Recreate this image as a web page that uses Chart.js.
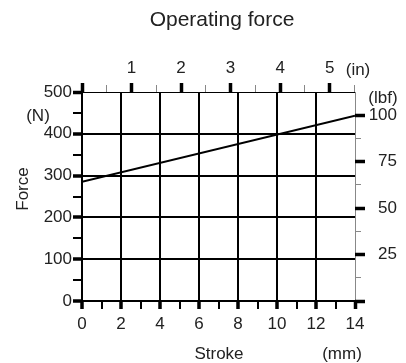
<!DOCTYPE html>
<html>
<head>
<meta charset="utf-8">
<title>Operating force</title>
<script src="https://cdn.jsdelivr.net/npm/chart.js@4/dist/chart.umd.min.js"></script>
<style>
  html, body { margin: 0; padding: 0; background: #fff; }
  #forceChart { display: block; }
</style>
</head>
<body>
<canvas id="forceChart" width="406" height="363"></canvas>
<script>
// Stroke (mm) vs operating force (N)
const strokeMm = [0, 14];
const forceN = [285, 443];

// labelled ticks on each axis
const mmLabels = [0, 2, 4, 6, 8, 10, 12, 14];
const inLabels = [1, 2, 3, 4, 5];
const newtonLabels = [0, 100, 200, 300, 400, 500];
const lbfLabels = [25, 50, 75, 100];

// tick marks on the secondary (inch / lbf) axes, labelled and unlabelled
const inTicks = [0, 0.5, 1, 1.5, 2, 2.5, 3, 3.5, 4, 4.5, 5, 5.5];
const lbfTicks = [0, 12.5, 25, 37.5, 50, 62.5, 75, 87.5, 100];

// top scale is marked in tenths of an inch
const MM_PER_IN_MARK = 2.54;
const N_PER_LBF = 4.448;
const X_MAX = 14;
const Y_MAX = 500;

const FONT = 'Liberation Sans';
const TEXT = '#222';

const tickFont = { family: FONT, size: 17 };

// extra captions around the frame
const axisNotes = {
    id: 'axisNotes',
    afterDraw(chart) {
        const c = chart.ctx;
        c.save();
        c.fillStyle = TEXT;
        c.textBaseline = 'alphabetic';
        c.textAlign = 'center';

        c.font = '21px "' + FONT + '"';
        c.fillText('Operating force', 222, 26);

        c.font = '17px "' + FONT + '"';
        c.fillText('(N)', 38, 121);
        c.fillText('(lbf)', 383, 103);
        c.fillText('(in)', 358, 75);
        c.fillText('Stroke', 219, 359);
        c.fillText('(mm)', 342, 359);

        c.translate(28, 189);
        c.rotate(-Math.PI / 2);
        c.fillText('Force', 0, 0);
        c.restore();
    }
};

const isMajor = (v, step) => Math.abs(v / step - Math.round(v / step)) < 1e-6;
const fixedTicks = values => scale => { scale.ticks = values.map(v => ({ value: v })); };

// fixed box sizes so the plot frame sits at 82..355 x 92..301
const fixSize = (w, h) => scale => {
    if (w !== null) scale.width = w;
    if (h !== null) scale.height = h;
    scale.paddingLeft = 0;
    scale.paddingRight = 0;
    scale.paddingTop = 0;
    scale.paddingBottom = 0;
};

const ctx = document.getElementById('forceChart').getContext('2d');
const chart = new Chart(ctx, {
    type: 'line',
    data: {
        datasets: [{
            data: strokeMm.map((x, i) => ({ x: x, y: forceN[i] })),
            borderColor: '#000',
            borderWidth: 2,
            pointRadius: 0,
            fill: false,
            xAxisID: 'x',
            yAxisID: 'y'
        }]
    },
    options: {
        responsive: false,
        animation: false,
        layout: { padding: { right: 9 } },
        plugins: {
            legend: { display: false },
            title: { display: false },
            tooltip: { enabled: false }
        },
        scales: {
            x: {
                type: 'linear',
                position: 'bottom',
                min: 0,
                max: X_MAX,
                border: { display: false },
                afterFit: fixSize(null, 62),
                grid: {
                    color: c => c.tick.value === X_MAX ? '#888' : (isMajor(c.tick.value, 2) ? '#000' : 'transparent'),
                    lineWidth: c => c.tick.value === X_MAX ? 1 : (isMajor(c.tick.value, 2) ? 2 : 0),
                    tickColor: '#000',
                    tickWidth: c => isMajor(c.tick.value, 2) ? 3.5 : 2,
                    tickLength: 8
                },
                ticks: {
                    stepSize: 1,
                    autoSkip: false,
                    maxRotation: 0,
                    padding: 5,
                    color: TEXT,
                    font: tickFont,
                    callback: v => mmLabels.includes(v) ? String(v) : ''
                }
            },
            xIn: {
                type: 'linear',
                position: 'top',
                min: 0,
                max: X_MAX / MM_PER_IN_MARK,
                border: { display: false },
                afterBuildTicks: fixedTicks(inTicks),
                afterFit: fixSize(null, 92),
                grid: {
                    drawOnChartArea: false,
                    tickColor: c => isMajor(c.tick.value, 1) ? '#000' : '#888',
                    tickWidth: c => isMajor(c.tick.value, 1) ? 3.5 : 1,
                    tickBorderDash: c => isMajor(c.tick.value, 1) ? [] : [0, 2, 7, 20],
                    tickLength: 9
                },
                ticks: {
                    autoSkip: false,
                    maxRotation: 0,
                    padding: 4,
                    color: TEXT,
                    font: tickFont,
                    callback: v => inLabels.includes(v) ? String(v) : ''
                }
            },
            y: {
                type: 'linear',
                position: 'left',
                min: 0,
                max: Y_MAX,
                border: { display: false },
                afterFit: fixSize(82, null),
                grid: {
                    color: c => isMajor(c.tick.value, 100) ? '#000' : 'transparent',
                    lineWidth: c => c.tick.value === Y_MAX ? 1 : (isMajor(c.tick.value, 100) ? 2 : 0),
                    tickColor: '#000',
                    tickWidth: c => isMajor(c.tick.value, 100) ? 3.5 : 2,
                    tickLength: 9
                },
                ticks: {
                    stepSize: 50,
                    autoSkip: false,
                    padding: 1,
                    color: TEXT,
                    font: tickFont,
                    callback: v => newtonLabels.includes(v) ? String(v) : ''
                }
            },
            yLbf: {
                type: 'linear',
                position: 'right',
                min: 0,
                max: Y_MAX / N_PER_LBF,
                border: { display: false },
                afterBuildTicks: fixedTicks(lbfTicks),
                afterFit: fixSize(42, null),
                grid: {
                    drawOnChartArea: false,
                    tickColor: c => isMajor(c.tick.value, 25) ? '#000' : '#888',
                    tickWidth: c => isMajor(c.tick.value, 25) ? 3.5 : 1,
                    tickBorderDash: c => isMajor(c.tick.value, 25) ? [] : [6, 20],
                    tickLength: 10
                },
                ticks: {
                    autoSkip: false,
                    crossAlign: 'far',
                    color: TEXT,
                    font: tickFont,
                    callback: v => lbfLabels.includes(v) ? String(v) : ''
                }
            }
        }
    },
    plugins: [axisNotes]
});
</script>
</body>
</html>
